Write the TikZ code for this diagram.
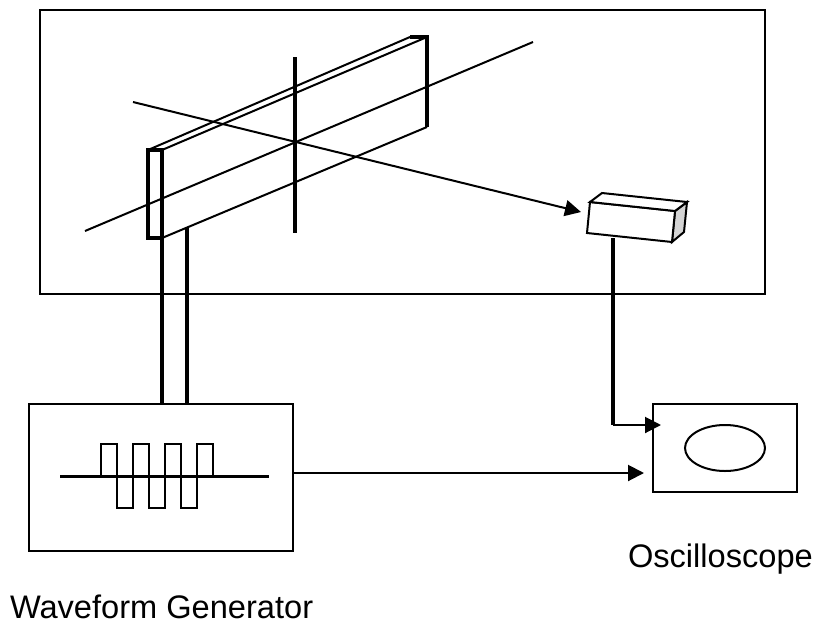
\documentclass[tikz,border=0pt]{standalone}
\usepackage{xcolor}
\usepackage{fontspec}
\setmainfont{Liberation Sans}
\usetikzlibrary{arrows.meta,positioning,shapes.geometric}
\definecolor{SideGray}{HTML}{D4D4D4}

\begin{document}
\begin{tikzpicture}[
  x=1pt,y=-1pt,
  every node/.style={font=\fontsize{32.6}{36}\selectfont,inner sep=0pt,outer sep=0pt},
  panel/.style={draw,line width=2.2pt,rectangle},
  edge/.style={line width=2pt},
  heavy/.style={line width=3.2pt},
  a/.style={-{Triangle[length=16pt,width=16pt]},line width=2pt},
  label/.style={anchor=base west}
]
  \useasboundingbox (0,0) rectangle (814,625);
  \node[panel,minimum width=725pt,minimum height=284pt] (chamber) at (402.5,152) {};
  \node[panel,minimum width=264pt,minimum height=147pt] (generator) at (161,477.5) {};
  \node[panel,minimum width=144pt,minimum height=88pt] (scope) at (725,448) {};
  \node[draw,ellipse,line width=2pt,minimum width=80pt,minimum height=46pt] (trace) at (725,448) {};
  \node[label] (scopelabel) at (628,567) {Oscilloscope};
  \node[label] (genlabel) at (10,618) {Waveform Generator};
  % beam
  \coordinate (faceA) at (148,150);
  \coordinate (faceB) at (162,150);
  \coordinate (faceC) at (162,238);
  \coordinate (faceD) at (148,238);
  \coordinate (farA) at (410,37);
  \coordinate (farB) at (427,37);
  \coordinate (farC) at (427,127);
  \draw[heavy] (faceA) -- (faceB) -- (faceC) -- (faceD) -- cycle;
  \draw[heavy] (farA) -- (farB) -- (farC);
  \draw[edge] (faceA) -- (farA);
  \draw[edge] (faceB) -- (farB);
  \draw[edge] (faceC) -- (farC);
  % leads to the generator
  \coordinate (leadB) at (187,228);
  \draw[heavy] (faceC) -- (faceC |- generator.north);
  \draw[heavy] (leadB) -- (leadB |- generator.north);
  % crossing lines
  \coordinate (axisA) at (85,231);
  \coordinate (axisB) at (533,42);
  \coordinate (wireA) at (295,57);
  \coordinate (wireB) at (295,233);
  \coordinate (rayA) at (133,102);
  \coordinate (rayB) at (581,212);
  \draw[edge] (axisA) -- (axisB);
  \draw[heavy] (wireA) -- (wireB);
  \draw[a] (rayA) -- (rayB);
  % detector
  \coordinate (detA) at (590,202);
  \coordinate (detB) at (675,211);
  \coordinate (detC) at (672,242);
  \coordinate (detD) at (587,233);
  \coordinate (detE) at (602,193);
  \coordinate (detF) at (687,202);
  \coordinate (detG) at (684,232);
  \draw[edge,fill=SideGray] (detB) -- (detF) -- (detG) -- (detC) -- cycle;
  \draw[edge,fill=white] (detA) -- (detB) -- (detC) -- (detD) -- cycle;
  \draw[edge,fill=white] (detA) -- (detE) -- (detF) -- (detB) -- cycle;
  % signal paths
  \coordinate (cableA) at (613,238);
  \coordinate (cableB) at (613,425);
  \coordinate (cableC) at (661,425);
  \coordinate (outA) at (293,473);
  \coordinate (outB) at (644,473);
  \draw[heavy] (cableA) -- (cableB);
  \draw[a] (cableB) -- (cableC);
  \draw[a] (outA) -- (outB);
  % square wave
  \coordinate (baseA) at (60,476);
  \coordinate (baseB) at (269,476);
  \draw[line width=2pt] (101,476) -- (101,444) -- (117,444) -- (117,508) -- (133,508) -- (133,444)
    -- (149,444) -- (149,508) -- (165,508) -- (165,444) -- (181,444) -- (181,508) -- (197,508)
    -- (197,444) -- (213,444) -- (213,476);
  \draw[line width=3pt] (baseA) -- (baseB);
\end{tikzpicture}
\end{document}
